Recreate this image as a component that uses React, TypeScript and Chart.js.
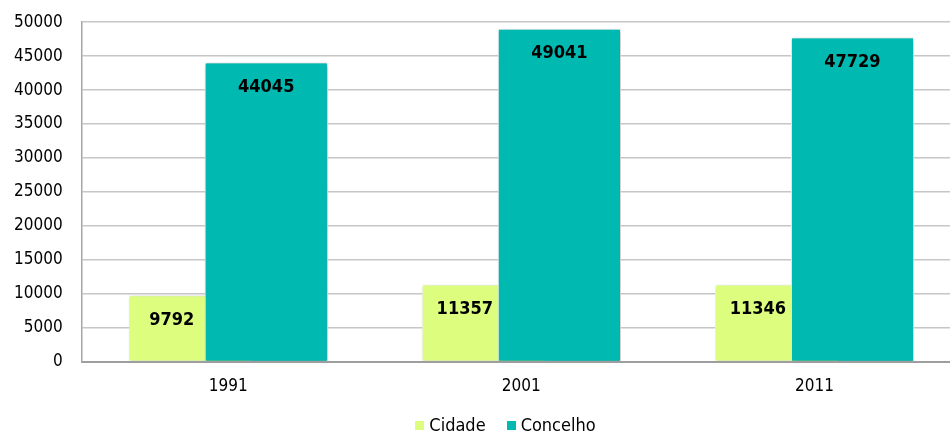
import React, { useEffect, useRef } from "react";
import { Chart, registerables } from "chart.js";

Chart.register(...registerables);

const categories = ["1991", "2001", "2011"];
const cidade = [9792, 11357, 11346];
const concelho = [44045, 49041, 47729];
const seriesNames = ["Cidade", "Concelho"];
const seriesColors = ["#dcfd7e", "#00b9b1"];
const yMin = 0;
const yMax = 50000;
const yStep = 5000;

const FONT = "'DejaVu Sans Condensed', 'DejaVu Sans', sans-serif";

const barPlugin = {
  id: "barExtras",
  beforeDatasetDraw(chart: any) {
    const ctx = chart.ctx;
    ctx.save();
    ctx.shadowColor = "rgba(0,0,0,0.28)";
    ctx.shadowBlur = 4;
    ctx.shadowOffsetX = 1;
    ctx.shadowOffsetY = 1;
  },
  afterDatasetDraw(chart: any) {
    chart.ctx.restore();
  },
  afterDatasetsDraw(chart: any) {
    const ctx = chart.ctx;
    const area = chart.chartArea;
    const m0 = chart.getDatasetMeta(0);
    const m1 = chart.getDatasetMeta(1);
    // redraw Concelho on top so it overlaps Cidade
    ctx.save();
    ctx.beginPath();
    ctx.rect(area.left, area.top - 2, area.right - area.left, area.bottom - area.top + 4);
    ctx.clip();
    ctx.shadowColor = "rgba(0,0,0,0.28)";
    ctx.shadowBlur = 4;
    ctx.shadowOffsetX = 1;
    ctx.shadowOffsetY = 1;
    m1.data.forEach((el: any) => el.draw(ctx));
    ctx.restore();

    ctx.save();
    ctx.fillStyle = "#000";
    ctx.font = `bold 18px ${FONT}`;
    ctx.textAlign = "center";
    ctx.textBaseline = "middle";
    m0.data.forEach((el: any, i: number) => {
      const c = el.getProps(["x", "y", "width"], true);
      const n = m1.data[i].getProps(["x", "width"], true);
      const left = c.x - c.width / 2;
      const right = n.x - n.width / 2;
      ctx.fillText(String(cidade[i]), (left + right) / 2 + 5, c.y + 25);
    });
    m1.data.forEach((el: any, i: number) => {
      const c = el.getProps(["x", "y"], true);
      ctx.fillText(String(concelho[i]), c.x, c.y + 25);
    });
    ctx.restore();
  },
};

export default function App() {
  const ref = useRef<HTMLCanvasElement>(null);
  useEffect(() => {
    if (!ref.current) return;
    const chart = new Chart(ref.current, {
      type: "bar",
      data: {
        labels: categories,
        datasets: [
          {
            label: seriesNames[0],
            data: cidade,
            backgroundColor: seriesColors[0],
            borderColor: "#ffffff",
            borderWidth: 1,
            categoryPercentage: 0.519,
            barPercentage: 1.618,
          },
          {
            label: seriesNames[1],
            data: concelho,
            backgroundColor: seriesColors[1],
            borderColor: "#ffffff",
            borderWidth: 1,
            categoryPercentage: 0.519,
            barPercentage: 1.618,
          },
        ],
      },
      options: {
        responsive: false,
        animation: false,
        devicePixelRatio: 1,
        layout: { padding: { left: 14, right: 4, top: 7, bottom: 22 } },
        plugins: {
          legend: { display: false },
          tooltip: { enabled: false },
        },
        scales: {
          x: {
            grid: { display: false, drawTicks: false },
            border: { display: true, color: "#9e9e9e", width: 2 },
            ticks: { color: "#000", font: { family: FONT, size: 17 }, padding: 15 },
          },
          y: {
            min: yMin,
            max: yMax,
            ticks: {
              stepSize: yStep,
              color: "#000",
              font: { family: FONT, size: 17 },
              padding: 19,
              callback: (v: any) => String(v),
            },
            grid: { color: "#c6c6c6", lineWidth: 1.5, drawTicks: false },
            border: { display: true, color: "#a6a6a6", width: 1.5 },
          },
        },
      },
      plugins: [barPlugin],
    });
    return () => chart.destroy();
  }, []);

  return (
    <div
      style={{
        position: "absolute",
        left: 0,
        top: 0,
        width: 950,
        height: 434,
        overflow: "hidden",
        background: "#fff",
      }}
    >
      <canvas
        ref={ref}
        width={984}
        height={441}
        style={{ display: "block", position: "absolute", left: -19, top: -7 }}
      />
      <div
        style={{
          position: "absolute",
          left: 0,
          top: 414,
          width: 1011,
          display: "flex",
          justifyContent: "center",
          alignItems: "center",
          fontFamily: FONT,
          fontSize: 18,
          color: "#000",
          lineHeight: "22px",
        }}
      >
        {seriesNames.map((n, i) => (
          <span key={n} style={{ display: "flex", alignItems: "center", marginRight: i === 0 ? 21 : 0 }}>
            <span
              style={{
                display: "inline-block",
                width: 9,
                height: 9,
                background: seriesColors[i],
                marginRight: 5,
              }}
            />
            {n}
          </span>
        ))}
      </div>
    </div>
  );
}
